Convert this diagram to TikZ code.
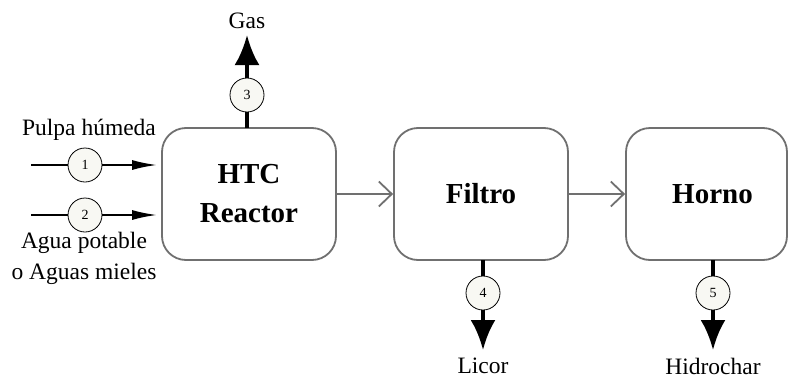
\documentclass[tikz,border=0pt]{standalone}
\usepackage{fontspec}
\setmainfont{Liberation Serif}
\usetikzlibrary{arrows.meta,calc}
\definecolor{boxgray}{HTML}{707070}
\definecolor{circfill}{HTML}{F8F8F3}
\begin{document}
\begin{tikzpicture}[x=1pt,y=-1pt,
  unitbox/.style={draw=boxgray,line width=1.8pt,rounded corners=24pt,minimum height=132pt,inner sep=0pt,align=center,font=\fontsize{29}{32}\selectfont\bfseries},
  numcirc/.style={circle,draw=black,line width=0.8pt,fill=circfill,minimum size=34pt,inner sep=0pt,font=\fontsize{14}{16}\selectfont},
  lbl/.style={inner sep=0pt,align=center,font=\fontsize{23.5}{31}\selectfont},
  grayarrow/.style={draw=boxgray,line width=1.8pt,-{Straight Barb[length=13pt,width=25pt,line width=1.8pt]}},
  inarrow/.style={line width=2pt,-{Latex[length=25pt,width=10pt]}},
  outline/.style={line width=4pt},
  outarrow/.style={line width=4pt,-{Latex[length=30pt,width=25pt]}}]
\useasboundingbox (0,0) rectangle (788,378);
\fill[white] (0,0) rectangle (788,378);
% boxes
\node[unitbox,minimum width=174pt] (htc) at (249,194) {HTC\\[7pt]Reactor};
\node[unitbox,minimum width=174pt] (fil) at (481,194) {Filtro};
\node[unitbox,minimum width=161pt] (hor) at (706.5,194) {\hspace*{12pt}Horno};
% gray connections
\draw[grayarrow] (htc.east) -- (fil.west);
\draw[grayarrow] (fil.east) -- (hor.west);
% inputs
\coordinate (s1) at (31,165);
\coordinate (s2) at (31,215);
\node[numcirc] (c1) at (85,165) {1};
\node[numcirc] (c2) at (85,215) {2};
\coordinate (e1) at (htc.west |- s1);
\coordinate (e2) at (htc.west |- s2);
\draw[line width=2pt] (s1) -- (c1);
\draw[inarrow] (c1) -- ($(e1)+(-4,0)$);
\draw[line width=2pt] (s2) -- (c2);
\draw[inarrow] (c2) -- ($(e2)+(-4,0)$);
\node[lbl] (l1) at (89,130) {Pulpa húmeda};
\node[lbl,anchor=north] (l2) at (84,232) {Agua potable\\o Aguas mieles};
% gas
\node[numcirc] (c3) at (247,95) {3};
\coordinate (g0) at (247,128);
\coordinate (g1) at (247,35);
\draw[outline] (g0) -- (c3);
\draw[outarrow] (c3) -- (g1);
\node[lbl] (gas) at (247,21) {Gas};
% licor
\node[numcirc] (c4) at (483,293) {4};
\coordinate (f0) at (483,260);
\coordinate (f1) at (483,350);
\draw[outline] (f0) -- (c4);
\draw[outarrow] (c4) -- (f1);
\node[lbl] (lic) at (483,366) {Licor};
% hidrochar
\node[numcirc] (c5) at (713,293) {5};
\coordinate (h0) at (713,260);
\coordinate (h1) at (713,350);
\draw[outline] (h0) -- (c5);
\draw[outarrow] (c5) -- (h1);
\node[lbl] (hid) at (713,366) {Hidrochar};
\end{tikzpicture}
\end{document}
